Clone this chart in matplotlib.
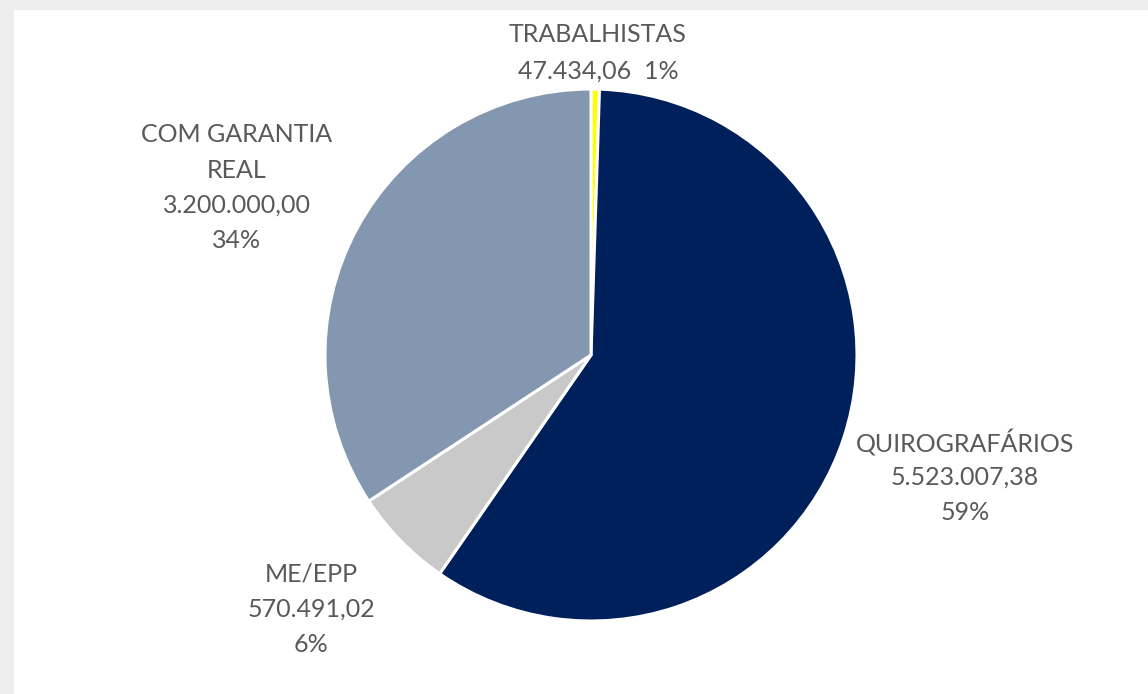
import matplotlib
matplotlib.use("Agg")
import matplotlib.pyplot as plt
from matplotlib.patches import Rectangle

# ---- data ----
categories = ["TRABALHISTAS", "QUIROGRAFÁRIOS", "ME/EPP", "COM GARANTIA REAL"]
values = [47434.06, 5523007.38, 570491.02, 3200000.00]
percent_labels = ["1%", "59%", "6%", "34%"]
colors = ["#FFFF00", "#00205C", "#C9C9C9", "#8497B0"]

W, H = 1148, 694
CX, CY, R = 591, 355, 266  # pie center / radius in pixels


def br(v):
    s = f"{v:,.2f}"
    return s.replace(",", "X").replace(".", ",").replace("X", ".")


def to_data(px, py):
    return (px - CX) / R, (CY - py) / R


fig = plt.figure(figsize=(W / 100, H / 100), dpi=100)
fig.patch.set_facecolor("#EEEEEE")
fig.patches.append(Rectangle((14 / W, 0), 1, (H - 10) / H, transform=fig.transFigure,
                             facecolor="white", edgecolor="none", zorder=-5))
ax = fig.add_axes([0, 0, 1, 1])
ax.set_zorder(5)
ax.patch.set_visible(False)

ax.pie(values, colors=colors, startangle=90, counterclock=False, radius=1.0,
       wedgeprops=dict(edgecolor="white", linewidth=2.2))
ax.set_aspect("auto")
ax.set_xlim(-CX / R, (W - CX) / R)
ax.set_ylim(-(H - CY) / R, CY / R)
ax.axis("off")

# label text lines built from data
lines = [
    [categories[0], f"{br(values[0])}  {percent_labels[0]}"],
    [categories[1], br(values[1]), percent_labels[1]],
    [categories[2], br(values[2]), percent_labels[2]],
    ["COM GARANTIA", "REAL", br(values[3]), percent_labels[3]],
]
# layout: (center x px, first line center y px, line step px)
layout = [(598, 33, 36.5), (965, 441, 34.5), (311, 572, 35.5), (237, 133, 35)]

for txts, (lx, ly, step) in zip(lines, layout):
    for i, t in enumerate(txts):
        x, y = to_data(lx, ly + i * step)
        ax.text(x, y, t, ha="center", va="center_baseline", fontsize=18,
                family="Lato", color="#595959", clip_on=False)

fig.savefig("out.png", dpi=100, facecolor=fig.get_facecolor())
